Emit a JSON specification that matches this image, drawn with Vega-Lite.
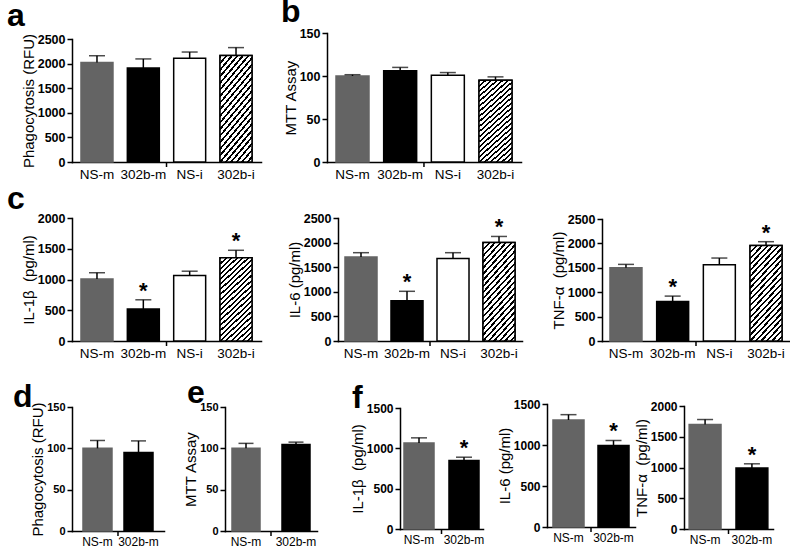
{
"$schema": "https://vega.github.io/schema/vega-lite/v6.json",
"background": "white",
"padding": {"left": 7, "top": -4, "right": 0, "bottom": 0},
"data": {"values": [
{"p":"a","g":"NS-m","v":2020,"hi":2160,"s":0},{"p":"a","g":"302b-m","v":1910,"hi":2095,"s":0},{"p":"a","g":"NS-i","v":2110,"hi":2235,"s":0},{"p":"a","g":"302b-i","v":2165,"hi":2325,"s":0},
{"p":"b","g":"NS-m","v":100,"hi":101.5,"s":0},{"p":"b","g":"302b-m","v":106,"hi":110,"s":0},{"p":"b","g":"NS-i","v":101,"hi":104,"s":0},{"p":"b","g":"302b-i","v":95,"hi":99,"s":0},
{"p":"c1","g":"NS-m","v":1010,"hi":1110,"s":0},{"p":"c1","g":"302b-m","v":520,"hi":670,"s":1},{"p":"c1","g":"NS-i","v":1065,"hi":1135,"s":0},{"p":"c1","g":"302b-i","v":1355,"hi":1475,"s":1},
{"p":"c2","g":"NS-m","v":1705,"hi":1795,"s":0},{"p":"c2","g":"302b-m","v":820,"hi":1010,"s":1},{"p":"c2","g":"NS-i","v":1675,"hi":1795,"s":0},{"p":"c2","g":"302b-i","v":2000,"hi":2125,"s":1},
{"p":"c3","g":"NS-m","v":1500,"hi":1570,"s":0},{"p":"c3","g":"302b-m","v":810,"hi":920,"s":1},{"p":"c3","g":"NS-i","v":1565,"hi":1700,"s":0},{"p":"c3","g":"302b-i","v":1955,"hi":2035,"s":1},
{"p":"d","g":"NS-m","v":100,"hi":109.5,"s":0},{"p":"d","g":"302b-m","v":95,"hi":109,"s":0},
{"p":"e","g":"NS-m","v":100,"hi":106,"s":0},{"p":"e","g":"302b-m","v":104.5,"hi":107.5,"s":0},
{"p":"f1","g":"NS-m","v":1065,"hi":1130,"s":0},{"p":"f1","g":"302b-m","v":850,"hi":890,"s":1},
{"p":"f2","g":"NS-m","v":1305,"hi":1370,"s":0},{"p":"f2","g":"302b-m","v":995,"hi":1055,"s":1},
{"p":"f3","g":"NS-m","v":1700,"hi":1780,"s":0},{"p":"f3","g":"302b-m","v":990,"hi":1060,"s":1}
]},
"columns": 8,
"bounds": "flush",
"align": "each",
"spacing": {"row": 56, "column": 0},
"concat": [
{
 "width": 153, "height": 130,
 "title": {"text": "a", "dx": -65, "offset": -1},
 "transform": [{"filter": "datum.p==='a'"}],
 "encoding": {"x": {"field":"g","type":"nominal","title":null,"axis":{"labelFontSize":13.5,"labelFontWeight":"normal","ticks":false,"tickSize":0,"labelPadding":5,"labelAngle":0},"scale":{"domain":["NS-m","302b-m","NS-i","302b-i"],"range":[0,189],"paddingInner":0.31,"paddingOuter":0.194}}},
 "layer": [
  {"mark":{"type":"bar","strokeWidth":1.5},"encoding":{"y":{"field":"v","type":"quantitative","title":"Phagocytosis (RFU)","scale":{"domain":[0,2500],"range":[130,7],"nice":false},"axis":{"values":[0,500,1000,1500,2000,2500],"format":"d","labelFontSize":12.5,"labelFontWeight":"bold","labelPadding":2,"tickSize":5,"titleFontSize":15,"titleFontWeight":"normal","titlePadding":1}},
    "fill":{"field":"g","type":"nominal","legend":null,"scale":{"domain":["NS-m","302b-m","NS-i","302b-i"],"range":["#646464","#000000","#ffffff","#ffffff"]}},
    "stroke":{"field":"g","type":"nominal","legend":null,"scale":{"domain":["NS-m","302b-m","NS-i","302b-i"],"range":["#646464","#000000","#000000","#000000"]}}}},
  {"transform":[{"filter":"datum.g==='302b-i'"}],"mark":{"type":"bar","stroke":"#000","strokeWidth":1.5},"encoding":{"y":{"field":"v","type":"quantitative","title":"Phagocytosis (RFU)","axis":{"values":[0,500,1000,1500,2000,2500],"format":"d","labelFontSize":12.5,"labelFontWeight":"bold","labelPadding":2,"tickSize":5,"titleFontSize":15,"titleFontWeight":"normal","titlePadding":1}}}},
  {"mark":{"type":"rule","color":"#000","strokeWidth":1.5},"encoding":{"y":{"field":"v","type":"quantitative","title":"Phagocytosis (RFU)","axis":{"values":[0,500,1000,1500,2000,2500],"format":"d","labelFontSize":12.5,"labelFontWeight":"bold","labelPadding":2,"tickSize":5,"titleFontSize":15,"titleFontWeight":"normal","titlePadding":1}},"y2":{"field":"hi"}}},
  {"mark":{"type":"tick","orient":"horizontal","size":16,"thickness":1.5,"color":"#000"},"encoding":{"y":{"field":"hi","type":"quantitative","title":"Phagocytosis (RFU)","axis":{"values":[0,500,1000,1500,2000,2500],"format":"d","labelFontSize":12.5,"labelFontWeight":"bold","labelPadding":2,"tickSize":5,"titleFontSize":15,"titleFontWeight":"normal","titlePadding":1}}}},
  {"transform":[{"filter":"datum.g==='302b-m'"}],"mark":{"type":"rule","color":"#000","strokeWidth":1.5,"xOffset":7.2,"y2Offset":5},"encoding":{
    "x": {"field":"g","type":"nominal","bandPosition":1,"title":null,"axis":{"labelFontSize":13.5,"labelFontWeight":"normal","ticks":false,"tickSize":0,"labelPadding":5,"labelAngle":0},"scale":{"domain":["NS-m","302b-m","NS-i","302b-i"],"range":[0,189],"paddingInner":0.31,"paddingOuter":0.194}},
    "y":{"datum":0,"type":"quantitative","title":"Phagocytosis (RFU)","axis":{"values":[0,500,1000,1500,2000,2500],"format":"d","labelFontSize":12.5,"labelFontWeight":"bold","labelPadding":2,"tickSize":5,"titleFontSize":15,"titleFontWeight":"normal","titlePadding":1}},"y2":{"datum":0}}}
 ]
},
{"width":1,"height":1,"transform":[{"filter":"false"}],"mark":{"type":"point","opacity":0},"encoding":{}},
{
 "width": 11, "height": 130,
 "title": {"text": "b", "dx": -46, "offset": -2},
 "transform": [{"filter": "datum.p==='b'"}],
 "encoding": {"x": {"field":"g","type":"nominal","title":null,"axis":{"labelFontSize":13.5,"labelFontWeight":"normal","ticks":false,"tickSize":0,"labelPadding":5,"labelAngle":0},"scale":{"domain":["NS-m","302b-m","NS-i","302b-i"],"range":[0,194],"paddingInner":0.308,"paddingOuter":0.189}}},
 "layer": [
  {"mark":{"type":"bar","strokeWidth":1.5},"encoding":{"y":{"field":"v","type":"quantitative","title":"MTT Assay","scale":{"domain":[0,150],"range":[130,1],"nice":false},"axis":{"values":[0,50,100,150],"format":"d","labelFontSize":12.5,"labelFontWeight":"bold","labelPadding":2,"tickSize":5,"titleFontSize":15,"titleFontWeight":"normal","titlePadding":1}},
    "fill":{"field":"g","type":"nominal","legend":null,"scale":{"domain":["NS-m","302b-m","NS-i","302b-i"],"range":["#646464","#000000","#ffffff","#ffffff"]}},
    "stroke":{"field":"g","type":"nominal","legend":null,"scale":{"domain":["NS-m","302b-m","NS-i","302b-i"],"range":["#646464","#000000","#000000","#000000"]}}}},
  {"transform":[{"filter":"datum.g==='302b-i'"}],"mark":{"type":"bar","stroke":"#000","strokeWidth":1.5},"encoding":{"y":{"field":"v","type":"quantitative","title":"MTT Assay","axis":{"values":[0,50,100,150],"format":"d","labelFontSize":12.5,"labelFontWeight":"bold","labelPadding":2,"tickSize":5,"titleFontSize":15,"titleFontWeight":"normal","titlePadding":1}}}},
  {"mark":{"type":"rule","color":"#000","strokeWidth":1.5},"encoding":{"y":{"field":"v","type":"quantitative","title":"MTT Assay","axis":{"values":[0,50,100,150],"format":"d","labelFontSize":12.5,"labelFontWeight":"bold","labelPadding":2,"tickSize":5,"titleFontSize":15,"titleFontWeight":"normal","titlePadding":1}},"y2":{"field":"hi"}}},
  {"mark":{"type":"tick","orient":"horizontal","size":16,"thickness":1.5,"color":"#000"},"encoding":{"y":{"field":"hi","type":"quantitative","title":"MTT Assay","axis":{"values":[0,50,100,150],"format":"d","labelFontSize":12.5,"labelFontWeight":"bold","labelPadding":2,"tickSize":5,"titleFontSize":15,"titleFontWeight":"normal","titlePadding":1}}}},
  {"transform":[{"filter":"datum.g==='302b-m'"}],"mark":{"type":"rule","color":"#000","strokeWidth":1.5,"xOffset":7.3,"y2Offset":5},"encoding":{
    "x": {"field":"g","type":"nominal","bandPosition":1,"title":null,"axis":{"labelFontSize":13.5,"labelFontWeight":"normal","ticks":false,"tickSize":0,"labelPadding":5,"labelAngle":0},"scale":{"domain":["NS-m","302b-m","NS-i","302b-i"],"range":[0,194],"paddingInner":0.308,"paddingOuter":0.189}},
    "y":{"datum":0,"type":"quantitative","title":"MTT Assay","axis":{"values":[0,50,100,150],"format":"d","labelFontSize":12.5,"labelFontWeight":"bold","labelPadding":2,"tickSize":5,"titleFontSize":15,"titleFontWeight":"normal","titlePadding":1}},"y2":{"datum":0}}}
 ]
},
{"width":1,"height":1,"transform":[{"filter":"false"}],"mark":{"type":"point","opacity":0},"encoding":{}},
{"width":1,"height":1,"transform":[{"filter":"false"}],"mark":{"type":"point","opacity":0},"encoding":{}},
{"width":1,"height":1,"transform":[{"filter":"false"}],"mark":{"type":"point","opacity":0},"encoding":{}},
{"width":1,"height":1,"transform":[{"filter":"false"}],"mark":{"type":"point","opacity":0},"encoding":{}},
{"width":1,"height":1,"transform":[{"filter":"false"}],"mark":{"type":"point","opacity":0},"encoding":{}},
{
 "width": 153, "height": 123,
 "title": {"text": "c", "dx": -65, "offset": -4},
 "transform": [{"filter": "datum.p==='c1'"}],
 "encoding": {"x": {"field":"g","type":"nominal","title":null,"axis":{"labelFontSize":13.5,"labelFontWeight":"normal","ticks":false,"tickSize":0,"labelPadding":5,"labelAngle":0},"scale":{"domain":["NS-m","302b-m","NS-i","302b-i"],"range":[0,189],"paddingInner":0.31,"paddingOuter":0.194}}},
 "layer": [
  {"mark":{"type":"bar","strokeWidth":1.5},"encoding":{"y":{"field":"v","type":"quantitative","title":"IL-1β\u00a0 (pg/ml)","scale":{"domain":[0,2000],"range":[123,0],"nice":false},"axis":{"values":[0,500,1000,1500,2000],"format":"d","labelFontSize":12.5,"labelFontWeight":"bold","labelPadding":2,"tickSize":5,"titleFontSize":15,"titleFontWeight":"normal","titlePadding":1}},
    "fill":{"field":"g","type":"nominal","legend":null,"scale":{"domain":["NS-m","302b-m","NS-i","302b-i"],"range":["#646464","#000000","#ffffff","#ffffff"]}},
    "stroke":{"field":"g","type":"nominal","legend":null,"scale":{"domain":["NS-m","302b-m","NS-i","302b-i"],"range":["#646464","#000000","#000000","#000000"]}}}},
  {"transform":[{"filter":"datum.g==='302b-i'"}],"mark":{"type":"bar","stroke":"#000","strokeWidth":1.5},"encoding":{"y":{"field":"v","type":"quantitative","title":"IL-1β\u00a0 (pg/ml)","axis":{"values":[0,500,1000,1500,2000],"format":"d","labelFontSize":12.5,"labelFontWeight":"bold","labelPadding":2,"tickSize":5,"titleFontSize":15,"titleFontWeight":"normal","titlePadding":1}}}},
  {"mark":{"type":"rule","color":"#000","strokeWidth":1.5},"encoding":{"y":{"field":"v","type":"quantitative","title":"IL-1β\u00a0 (pg/ml)","axis":{"values":[0,500,1000,1500,2000],"format":"d","labelFontSize":12.5,"labelFontWeight":"bold","labelPadding":2,"tickSize":5,"titleFontSize":15,"titleFontWeight":"normal","titlePadding":1}},"y2":{"field":"hi"}}},
  {"mark":{"type":"tick","orient":"horizontal","size":16,"thickness":1.5,"color":"#000"},"encoding":{"y":{"field":"hi","type":"quantitative","title":"IL-1β\u00a0 (pg/ml)","axis":{"values":[0,500,1000,1500,2000],"format":"d","labelFontSize":12.5,"labelFontWeight":"bold","labelPadding":2,"tickSize":5,"titleFontSize":15,"titleFontWeight":"normal","titlePadding":1}}}},
  {"transform":[{"filter":"datum.s===1"}],"mark":{"type":"text","text":"*","fontSize":22,"fontWeight":"bold","baseline":"alphabetic","dy":-2},"encoding":{"y":{"field":"hi","type":"quantitative","title":"IL-1β\u00a0 (pg/ml)","axis":{"values":[0,500,1000,1500,2000],"format":"d","labelFontSize":12.5,"labelFontWeight":"bold","labelPadding":2,"tickSize":5,"titleFontSize":15,"titleFontWeight":"normal","titlePadding":1}}}},
  {"transform":[{"filter":"datum.g==='302b-m'"}],"mark":{"type":"rule","color":"#000","strokeWidth":1.5,"xOffset":7.2,"y2Offset":5},"encoding":{
    "x": {"field":"g","type":"nominal","bandPosition":1,"title":null,"axis":{"labelFontSize":13.5,"labelFontWeight":"normal","ticks":false,"tickSize":0,"labelPadding":5,"labelAngle":0},"scale":{"domain":["NS-m","302b-m","NS-i","302b-i"],"range":[0,189],"paddingInner":0.31,"paddingOuter":0.194}},
    "y":{"datum":0,"type":"quantitative","title":"IL-1β\u00a0 (pg/ml)","axis":{"values":[0,500,1000,1500,2000],"format":"d","labelFontSize":12.5,"labelFontWeight":"bold","labelPadding":2,"tickSize":5,"titleFontSize":15,"titleFontWeight":"normal","titlePadding":1}},"y2":{"datum":0}}}
 ]
},
{"width":1,"height":1,"transform":[{"filter":"false"}],"mark":{"type":"point","opacity":0},"encoding":{}},
{"width":1,"height":1,"transform":[{"filter":"false"}],"mark":{"type":"point","opacity":0},"encoding":{}},
{
 "width": 62, "height": 123,
 "transform": [{"filter": "datum.p==='c2'"}],
 "encoding": {"x": {"field":"g","type":"nominal","title":null,"axis":{"labelFontSize":13.5,"labelFontWeight":"normal","ticks":false,"tickSize":0,"labelPadding":5,"labelAngle":0},"scale":{"domain":["NS-m","302b-m","NS-i","302b-i"],"range":[0,184],"paddingInner":0.304,"paddingOuter":0.152}}},
 "layer": [
  {"mark":{"type":"bar","strokeWidth":1.5},"encoding":{"y":{"field":"v","type":"quantitative","title":"IL-6 (pg/ml)","scale":{"domain":[0,2500],"range":[123,0],"nice":false},"axis":{"values":[0,500,1000,1500,2000,2500],"format":"d","labelFontSize":12.5,"labelFontWeight":"bold","labelPadding":2,"tickSize":5,"titleFontSize":15,"titleFontWeight":"normal","titlePadding":1}},
    "fill":{"field":"g","type":"nominal","legend":null,"scale":{"domain":["NS-m","302b-m","NS-i","302b-i"],"range":["#646464","#000000","#ffffff","#ffffff"]}},
    "stroke":{"field":"g","type":"nominal","legend":null,"scale":{"domain":["NS-m","302b-m","NS-i","302b-i"],"range":["#646464","#000000","#000000","#000000"]}}}},
  {"transform":[{"filter":"datum.g==='302b-i'"}],"mark":{"type":"bar","stroke":"#000","strokeWidth":1.5},"encoding":{"y":{"field":"v","type":"quantitative","title":"IL-6 (pg/ml)","axis":{"values":[0,500,1000,1500,2000,2500],"format":"d","labelFontSize":12.5,"labelFontWeight":"bold","labelPadding":2,"tickSize":5,"titleFontSize":15,"titleFontWeight":"normal","titlePadding":1}}}},
  {"mark":{"type":"rule","color":"#000","strokeWidth":1.5},"encoding":{"y":{"field":"v","type":"quantitative","title":"IL-6 (pg/ml)","axis":{"values":[0,500,1000,1500,2000,2500],"format":"d","labelFontSize":12.5,"labelFontWeight":"bold","labelPadding":2,"tickSize":5,"titleFontSize":15,"titleFontWeight":"normal","titlePadding":1}},"y2":{"field":"hi"}}},
  {"mark":{"type":"tick","orient":"horizontal","size":16,"thickness":1.5,"color":"#000"},"encoding":{"y":{"field":"hi","type":"quantitative","title":"IL-6 (pg/ml)","axis":{"values":[0,500,1000,1500,2000,2500],"format":"d","labelFontSize":12.5,"labelFontWeight":"bold","labelPadding":2,"tickSize":5,"titleFontSize":15,"titleFontWeight":"normal","titlePadding":1}}}},
  {"transform":[{"filter":"datum.s===1"}],"mark":{"type":"text","text":"*","fontSize":22,"fontWeight":"bold","baseline":"alphabetic","dy":-2},"encoding":{"y":{"field":"hi","type":"quantitative","title":"IL-6 (pg/ml)","axis":{"values":[0,500,1000,1500,2000,2500],"format":"d","labelFontSize":12.5,"labelFontWeight":"bold","labelPadding":2,"tickSize":5,"titleFontSize":15,"titleFontWeight":"normal","titlePadding":1}}}},
  {"transform":[{"filter":"datum.g==='302b-m'"}],"mark":{"type":"rule","color":"#000","strokeWidth":1.5,"xOffset":7,"y2Offset":5},"encoding":{
    "x": {"field":"g","type":"nominal","bandPosition":1,"title":null,"axis":{"labelFontSize":13.5,"labelFontWeight":"normal","ticks":false,"tickSize":0,"labelPadding":5,"labelAngle":0},"scale":{"domain":["NS-m","302b-m","NS-i","302b-i"],"range":[0,184],"paddingInner":0.304,"paddingOuter":0.152}},
    "y":{"datum":0,"type":"quantitative","title":"IL-6 (pg/ml)","axis":{"values":[0,500,1000,1500,2000,2500],"format":"d","labelFontSize":12.5,"labelFontWeight":"bold","labelPadding":2,"tickSize":5,"titleFontSize":15,"titleFontWeight":"normal","titlePadding":1}},"y2":{"datum":0}}}
 ]
},
{"width":1,"height":1,"transform":[{"filter":"false"}],"mark":{"type":"point","opacity":0},"encoding":{}},
{"width":1,"height":1,"transform":[{"filter":"false"}],"mark":{"type":"point","opacity":0},"encoding":{}},
{
 "width": 82, "height": 123,
 "transform": [{"filter": "datum.p==='c3'"}],
 "encoding": {"x": {"field":"g","type":"nominal","title":null,"axis":{"labelFontSize":13.5,"labelFontWeight":"normal","ticks":false,"tickSize":0,"labelPadding":5,"labelAngle":0},"scale":{"domain":["NS-m","302b-m","NS-i","302b-i"],"range":[0,188],"paddingInner":0.315,"paddingOuter":0.171}}},
 "layer": [
  {"mark":{"type":"bar","strokeWidth":1.5},"encoding":{"y":{"field":"v","type":"quantitative","title":"TNF-α\u00a0 (pg/ml)","scale":{"domain":[0,2500],"range":[123,1],"nice":false},"axis":{"values":[0,500,1000,1500,2000,2500],"format":"d","labelFontSize":12.5,"labelFontWeight":"bold","labelPadding":2,"tickSize":5,"titleFontSize":15,"titleFontWeight":"normal","titlePadding":1}},
    "fill":{"field":"g","type":"nominal","legend":null,"scale":{"domain":["NS-m","302b-m","NS-i","302b-i"],"range":["#646464","#000000","#ffffff","#ffffff"]}},
    "stroke":{"field":"g","type":"nominal","legend":null,"scale":{"domain":["NS-m","302b-m","NS-i","302b-i"],"range":["#646464","#000000","#000000","#000000"]}}}},
  {"transform":[{"filter":"datum.g==='302b-i'"}],"mark":{"type":"bar","stroke":"#000","strokeWidth":1.5},"encoding":{"y":{"field":"v","type":"quantitative","title":"TNF-α\u00a0 (pg/ml)","axis":{"values":[0,500,1000,1500,2000,2500],"format":"d","labelFontSize":12.5,"labelFontWeight":"bold","labelPadding":2,"tickSize":5,"titleFontSize":15,"titleFontWeight":"normal","titlePadding":1}}}},
  {"mark":{"type":"rule","color":"#000","strokeWidth":1.5},"encoding":{"y":{"field":"v","type":"quantitative","title":"TNF-α\u00a0 (pg/ml)","axis":{"values":[0,500,1000,1500,2000,2500],"format":"d","labelFontSize":12.5,"labelFontWeight":"bold","labelPadding":2,"tickSize":5,"titleFontSize":15,"titleFontWeight":"normal","titlePadding":1}},"y2":{"field":"hi"}}},
  {"mark":{"type":"tick","orient":"horizontal","size":16,"thickness":1.5,"color":"#000"},"encoding":{"y":{"field":"hi","type":"quantitative","title":"TNF-α\u00a0 (pg/ml)","axis":{"values":[0,500,1000,1500,2000,2500],"format":"d","labelFontSize":12.5,"labelFontWeight":"bold","labelPadding":2,"tickSize":5,"titleFontSize":15,"titleFontWeight":"normal","titlePadding":1}}}},
  {"transform":[{"filter":"datum.s===1"}],"mark":{"type":"text","text":"*","fontSize":22,"fontWeight":"bold","baseline":"alphabetic","dy":-2},"encoding":{"y":{"field":"hi","type":"quantitative","title":"TNF-α\u00a0 (pg/ml)","axis":{"values":[0,500,1000,1500,2000,2500],"format":"d","labelFontSize":12.5,"labelFontWeight":"bold","labelPadding":2,"tickSize":5,"titleFontSize":15,"titleFontWeight":"normal","titlePadding":1}}}},
  {"transform":[{"filter":"datum.g==='302b-m'"}],"mark":{"type":"rule","color":"#000","strokeWidth":1.5,"xOffset":7.35,"y2Offset":5},"encoding":{
    "x": {"field":"g","type":"nominal","bandPosition":1,"title":null,"axis":{"labelFontSize":13.5,"labelFontWeight":"normal","ticks":false,"tickSize":0,"labelPadding":5,"labelAngle":0},"scale":{"domain":["NS-m","302b-m","NS-i","302b-i"],"range":[0,188],"paddingInner":0.315,"paddingOuter":0.171}},
    "y":{"datum":0,"type":"quantitative","title":"TNF-α\u00a0 (pg/ml)","axis":{"values":[0,500,1000,1500,2000,2500],"format":"d","labelFontSize":12.5,"labelFontWeight":"bold","labelPadding":2,"tickSize":5,"titleFontSize":15,"titleFontWeight":"normal","titlePadding":1}},"y2":{"datum":0}}}
 ]
},
{"width":1,"height":1,"transform":[{"filter":"false"}],"mark":{"type":"point","opacity":0},"encoding":{}},
{
 "width": 153, "height": 134,
 "title": {"text": "d", "dx": -59, "offset": -17},
 "transform": [{"filter": "datum.p==='d'"}],
 "encoding": {"x": {"field":"g","type":"nominal","title":null,"axis":{"labelFontSize":12,"labelFontWeight":"normal","ticks":false,"tickSize":0,"labelPadding":5,"labelAngle":0},"scale":{"domain":["NS-m","302b-m"],"range":[0,92],"paddingInner":0.293,"paddingOuter":0.268}}},
 "layer": [
  {"mark":{"type":"bar","strokeWidth":1.5},"encoding":{"y":{"field":"v","type":"quantitative","title":"Phagocytosis (RFU)","scale":{"domain":[0,150],"range":[134,10],"nice":false},"axis":{"values":[0,50,100,150],"format":"d","labelFontSize":11,"labelFontWeight":"bold","labelPadding":2,"tickSize":5,"titleFontSize":15,"titleFontWeight":"normal","titlePadding":1}},
    "fill":{"field":"g","type":"nominal","legend":null,"scale":{"domain":["NS-m","302b-m"],"range":["#646464","#000000"]}},
    "stroke":{"field":"g","type":"nominal","legend":null,"scale":{"domain":["NS-m","302b-m"],"range":["#646464","#000000"]}}}},
  {"mark":{"type":"rule","color":"#000","strokeWidth":1.5},"encoding":{"y":{"field":"v","type":"quantitative","title":"Phagocytosis (RFU)","axis":{"values":[0,50,100,150],"format":"d","labelFontSize":11,"labelFontWeight":"bold","labelPadding":2,"tickSize":5,"titleFontSize":15,"titleFontWeight":"normal","titlePadding":1}},"y2":{"field":"hi"}}},
  {"mark":{"type":"tick","orient":"horizontal","size":15,"thickness":1.5,"color":"#000"},"encoding":{"y":{"field":"hi","type":"quantitative","title":"Phagocytosis (RFU)","axis":{"values":[0,50,100,150],"format":"d","labelFontSize":11,"labelFontWeight":"bold","labelPadding":2,"tickSize":5,"titleFontSize":15,"titleFontWeight":"normal","titlePadding":1}}}},
  {"transform":[{"filter":"datum.g==='NS-m'"}],"mark":{"type":"rule","color":"#000","strokeWidth":1.5,"xOffset":6,"y2Offset":5},"encoding":{
    "x": {"field":"g","type":"nominal","bandPosition":1,"title":null,"axis":{"labelFontSize":12,"labelFontWeight":"normal","ticks":false,"tickSize":0,"labelPadding":5,"labelAngle":0},"scale":{"domain":["NS-m","302b-m"],"range":[0,92],"paddingInner":0.293,"paddingOuter":0.268}},
    "y":{"datum":0,"type":"quantitative","title":"Phagocytosis (RFU)","axis":{"values":[0,50,100,150],"format":"d","labelFontSize":11,"labelFontWeight":"bold","labelPadding":2,"tickSize":5,"titleFontSize":15,"titleFontWeight":"normal","titlePadding":1}},"y2":{"datum":0}}}
 ]
},
{
 "width": 102, "height": 134,
 "title": {"text": "e", "dx": -38, "offset": -13},
 "transform": [{"filter": "datum.p==='e'"}],
 "encoding": {"x": {"field":"g","type":"nominal","title":null,"axis":{"labelFontSize":12,"labelFontWeight":"normal","ticks":false,"tickSize":0,"labelPadding":5,"labelAngle":0},"scale":{"domain":["NS-m","302b-m"],"range":[0,92],"paddingInner":0.44,"paddingOuter":0.14}}},
 "layer": [
  {"mark":{"type":"bar","strokeWidth":1.5},"encoding":{"y":{"field":"v","type":"quantitative","title":"MTT Assay","scale":{"domain":[0,150],"range":[134,10],"nice":false},"axis":{"values":[0,50,100,150],"format":"d","labelFontSize":11,"labelFontWeight":"bold","labelPadding":2,"tickSize":5,"titleFontSize":15,"titleFontWeight":"normal","titlePadding":1}},
    "fill":{"field":"g","type":"nominal","legend":null,"scale":{"domain":["NS-m","302b-m"],"range":["#646464","#000000"]}},
    "stroke":{"field":"g","type":"nominal","legend":null,"scale":{"domain":["NS-m","302b-m"],"range":["#646464","#000000"]}}}},
  {"mark":{"type":"rule","color":"#000","strokeWidth":1.5},"encoding":{"y":{"field":"v","type":"quantitative","title":"MTT Assay","axis":{"values":[0,50,100,150],"format":"d","labelFontSize":11,"labelFontWeight":"bold","labelPadding":2,"tickSize":5,"titleFontSize":15,"titleFontWeight":"normal","titlePadding":1}},"y2":{"field":"hi"}}},
  {"mark":{"type":"tick","orient":"horizontal","size":15,"thickness":1.5,"color":"#000"},"encoding":{"y":{"field":"hi","type":"quantitative","title":"MTT Assay","axis":{"values":[0,50,100,150],"format":"d","labelFontSize":11,"labelFontWeight":"bold","labelPadding":2,"tickSize":5,"titleFontSize":15,"titleFontWeight":"normal","titlePadding":1}}}},
  {"transform":[{"filter":"datum.g==='NS-m'"}],"mark":{"type":"rule","color":"#000","strokeWidth":1.5,"xOffset":11,"y2Offset":5},"encoding":{
    "x": {"field":"g","type":"nominal","bandPosition":1,"title":null,"axis":{"labelFontSize":12,"labelFontWeight":"normal","ticks":false,"tickSize":0,"labelPadding":5,"labelAngle":0},"scale":{"domain":["NS-m","302b-m"],"range":[0,92],"paddingInner":0.44,"paddingOuter":0.14}},
    "y":{"datum":0,"type":"quantitative","title":"MTT Assay","axis":{"values":[0,50,100,150],"format":"d","labelFontSize":11,"labelFontWeight":"bold","labelPadding":2,"tickSize":5,"titleFontSize":15,"titleFontWeight":"normal","titlePadding":1}},"y2":{"datum":0}}}
 ]
},
{"width":1,"height":1,"transform":[{"filter":"false"}],"mark":{"type":"point","opacity":0},"encoding":{}},
{"width":1,"height":1,"transform":[{"filter":"false"}],"mark":{"type":"point","opacity":0},"encoding":{}},
{
 "width": 147, "height": 134,
 "title": {"text": "f", "dx": -48, "offset": -18},
 "transform": [{"filter": "datum.p==='f1'"}],
 "encoding": {"x": {"field":"g","type":"nominal","title":null,"axis":{"offset":-2,"labelFontSize":12,"labelFontWeight":"normal","ticks":false,"tickSize":0,"labelPadding":5,"labelAngle":0},"scale":{"domain":["NS-m","302b-m"],"range":[0,83],"paddingInner":0.333,"paddingOuter":0.089}}},
 "layer": [
  {"mark":{"type":"bar","strokeWidth":1.5},"encoding":{"y":{"field":"v","type":"quantitative","title":"IL-1β\u00a0 (pg/ml)","scale":{"domain":[0,1500],"range":[132,11],"nice":false},"axis":{"values":[0,500,1000,1500],"format":"d","labelFontSize":12,"labelFontWeight":"bold","labelPadding":2,"tickSize":5,"titleFontSize":15,"titleFontWeight":"normal","titlePadding":1}},
    "fill":{"field":"g","type":"nominal","legend":null,"scale":{"domain":["NS-m","302b-m"],"range":["#646464","#000000"]}},
    "stroke":{"field":"g","type":"nominal","legend":null,"scale":{"domain":["NS-m","302b-m"],"range":["#646464","#000000"]}}}},
  {"mark":{"type":"rule","color":"#000","strokeWidth":1.5},"encoding":{"y":{"field":"v","type":"quantitative","title":"IL-1β\u00a0 (pg/ml)","axis":{"values":[0,500,1000,1500],"format":"d","labelFontSize":12,"labelFontWeight":"bold","labelPadding":2,"tickSize":5,"titleFontSize":15,"titleFontWeight":"normal","titlePadding":1}},"y2":{"field":"hi"}}},
  {"mark":{"type":"tick","orient":"horizontal","size":16,"thickness":1.5,"color":"#000"},"encoding":{"y":{"field":"hi","type":"quantitative","title":"IL-1β\u00a0 (pg/ml)","axis":{"values":[0,500,1000,1500],"format":"d","labelFontSize":12,"labelFontWeight":"bold","labelPadding":2,"tickSize":5,"titleFontSize":15,"titleFontWeight":"normal","titlePadding":1}}}},
  {"transform":[{"filter":"datum.s===1"}],"mark":{"type":"text","text":"*","fontSize":22,"fontWeight":"bold","baseline":"alphabetic","dy":-2},"encoding":{"y":{"field":"hi","type":"quantitative","title":"IL-1β\u00a0 (pg/ml)","axis":{"values":[0,500,1000,1500],"format":"d","labelFontSize":12,"labelFontWeight":"bold","labelPadding":2,"tickSize":5,"titleFontSize":15,"titleFontWeight":"normal","titlePadding":1}}}},
  {"transform":[{"filter":"datum.g==='NS-m'"}],"mark":{"type":"rule","color":"#000","strokeWidth":1.5,"xOffset":7.5,"y2Offset":5},"encoding":{
    "x": {"field":"g","type":"nominal","bandPosition":1,"title":null,"axis":{"offset":-2,"labelFontSize":12,"labelFontWeight":"normal","ticks":false,"tickSize":0,"labelPadding":5,"labelAngle":0},"scale":{"domain":["NS-m","302b-m"],"range":[0,83],"paddingInner":0.333,"paddingOuter":0.089}},
    "y":{"datum":0,"type":"quantitative","title":"IL-1β\u00a0 (pg/ml)","axis":{"values":[0,500,1000,1500],"format":"d","labelFontSize":12,"labelFontWeight":"bold","labelPadding":2,"tickSize":5,"titleFontSize":15,"titleFontWeight":"normal","titlePadding":1}},"y2":{"datum":0}}}
 ]
},
{
 "width": 55, "height": 134,
 "transform": [{"filter": "datum.p==='f2'"}],
 "encoding": {"x": {"field":"g","type":"nominal","title":null,"axis":{"offset":-4,"labelFontSize":12,"labelFontWeight":"normal","ticks":false,"tickSize":0,"labelPadding":5,"labelAngle":0},"scale":{"domain":["NS-m","302b-m"],"range":[0,88],"paddingInner":0.311,"paddingOuter":0.133}}},
 "layer": [
  {"mark":{"type":"bar","strokeWidth":1.5},"encoding":{"y":{"field":"v","type":"quantitative","title":"IL-6 (pg/ml)","scale":{"domain":[0,1500],"range":[130,7],"nice":false},"axis":{"values":[0,500,1000,1500],"format":"d","labelFontSize":12,"labelFontWeight":"bold","labelPadding":2,"tickSize":5,"titleFontSize":15,"titleFontWeight":"normal","titlePadding":1}},
    "fill":{"field":"g","type":"nominal","legend":null,"scale":{"domain":["NS-m","302b-m"],"range":["#646464","#000000"]}},
    "stroke":{"field":"g","type":"nominal","legend":null,"scale":{"domain":["NS-m","302b-m"],"range":["#646464","#000000"]}}}},
  {"mark":{"type":"rule","color":"#000","strokeWidth":1.5},"encoding":{"y":{"field":"v","type":"quantitative","title":"IL-6 (pg/ml)","axis":{"values":[0,500,1000,1500],"format":"d","labelFontSize":12,"labelFontWeight":"bold","labelPadding":2,"tickSize":5,"titleFontSize":15,"titleFontWeight":"normal","titlePadding":1}},"y2":{"field":"hi"}}},
  {"mark":{"type":"tick","orient":"horizontal","size":16,"thickness":1.5,"color":"#000"},"encoding":{"y":{"field":"hi","type":"quantitative","title":"IL-6 (pg/ml)","axis":{"values":[0,500,1000,1500],"format":"d","labelFontSize":12,"labelFontWeight":"bold","labelPadding":2,"tickSize":5,"titleFontSize":15,"titleFontWeight":"normal","titlePadding":1}}}},
  {"transform":[{"filter":"datum.s===1"}],"mark":{"type":"text","text":"*","fontSize":22,"fontWeight":"bold","baseline":"alphabetic","dy":-2},"encoding":{"y":{"field":"hi","type":"quantitative","title":"IL-6 (pg/ml)","axis":{"values":[0,500,1000,1500],"format":"d","labelFontSize":12,"labelFontWeight":"bold","labelPadding":2,"tickSize":5,"titleFontSize":15,"titleFontWeight":"normal","titlePadding":1}}}},
  {"transform":[{"filter":"datum.g==='NS-m'"}],"mark":{"type":"rule","color":"#000","strokeWidth":1.5,"xOffset":7,"y2Offset":5},"encoding":{
    "x": {"field":"g","type":"nominal","bandPosition":1,"title":null,"axis":{"offset":-4,"labelFontSize":12,"labelFontWeight":"normal","ticks":false,"tickSize":0,"labelPadding":5,"labelAngle":0},"scale":{"domain":["NS-m","302b-m"],"range":[0,88],"paddingInner":0.311,"paddingOuter":0.133}},
    "y":{"datum":0,"type":"quantitative","title":"IL-6 (pg/ml)","axis":{"values":[0,500,1000,1500],"format":"d","labelFontSize":12,"labelFontWeight":"bold","labelPadding":2,"tickSize":5,"titleFontSize":15,"titleFontWeight":"normal","titlePadding":1}},"y2":{"datum":0}}}
 ]
},
{"width":1,"height":1,"transform":[{"filter":"false"}],"mark":{"type":"point","opacity":0},"encoding":{}},
{
 "width": 89, "height": 134,
 "transform": [{"filter": "datum.p==='f3'"}],
 "encoding": {"x": {"field":"g","type":"nominal","title":null,"axis":{"offset":-2,"labelFontSize":12,"labelFontWeight":"normal","ticks":false,"tickSize":0,"labelPadding":5,"labelAngle":0},"scale":{"domain":["NS-m","302b-m"],"range":[0,89],"paddingInner":0.32,"paddingOuter":0.11}}},
 "layer": [
  {"mark":{"type":"bar","strokeWidth":1.5},"encoding":{"y":{"field":"v","type":"quantitative","title":"TNF-α\u00a0 (pg/ml)","scale":{"domain":[0,2000],"range":[132,9],"nice":false},"axis":{"values":[0,500,1000,1500,2000],"format":"d","labelFontSize":12,"labelFontWeight":"bold","labelPadding":2,"tickSize":5,"titleFontSize":15,"titleFontWeight":"normal","titlePadding":1}},
    "fill":{"field":"g","type":"nominal","legend":null,"scale":{"domain":["NS-m","302b-m"],"range":["#646464","#000000"]}},
    "stroke":{"field":"g","type":"nominal","legend":null,"scale":{"domain":["NS-m","302b-m"],"range":["#646464","#000000"]}}}},
  {"mark":{"type":"rule","color":"#000","strokeWidth":1.5},"encoding":{"y":{"field":"v","type":"quantitative","title":"TNF-α\u00a0 (pg/ml)","axis":{"values":[0,500,1000,1500,2000],"format":"d","labelFontSize":12,"labelFontWeight":"bold","labelPadding":2,"tickSize":5,"titleFontSize":15,"titleFontWeight":"normal","titlePadding":1}},"y2":{"field":"hi"}}},
  {"mark":{"type":"tick","orient":"horizontal","size":16,"thickness":1.5,"color":"#000"},"encoding":{"y":{"field":"hi","type":"quantitative","title":"TNF-α\u00a0 (pg/ml)","axis":{"values":[0,500,1000,1500,2000],"format":"d","labelFontSize":12,"labelFontWeight":"bold","labelPadding":2,"tickSize":5,"titleFontSize":15,"titleFontWeight":"normal","titlePadding":1}}}},
  {"transform":[{"filter":"datum.s===1"}],"mark":{"type":"text","text":"*","fontSize":22,"fontWeight":"bold","baseline":"alphabetic","dy":-2},"encoding":{"y":{"field":"hi","type":"quantitative","title":"TNF-α\u00a0 (pg/ml)","axis":{"values":[0,500,1000,1500,2000],"format":"d","labelFontSize":12,"labelFontWeight":"bold","labelPadding":2,"tickSize":5,"titleFontSize":15,"titleFontWeight":"normal","titlePadding":1}}}},
  {"transform":[{"filter":"datum.g==='NS-m'"}],"mark":{"type":"rule","color":"#000","strokeWidth":1.5,"xOffset":7.5,"y2Offset":5},"encoding":{
    "x": {"field":"g","type":"nominal","bandPosition":1,"title":null,"axis":{"offset":-2,"labelFontSize":12,"labelFontWeight":"normal","ticks":false,"tickSize":0,"labelPadding":5,"labelAngle":0},"scale":{"domain":["NS-m","302b-m"],"range":[0,89],"paddingInner":0.32,"paddingOuter":0.11}},
    "y":{"datum":0,"type":"quantitative","title":"TNF-α\u00a0 (pg/ml)","axis":{"values":[0,500,1000,1500,2000],"format":"d","labelFontSize":12,"labelFontWeight":"bold","labelPadding":2,"tickSize":5,"titleFontSize":15,"titleFontWeight":"normal","titlePadding":1}},"y2":{"datum":0}}}
 ]
}
],
"config": {
 "view": {"stroke": null},
 "font": "Liberation Sans",
 "axis": {"domainColor":"#000","domainWidth":1.5,"domainCap":"square","tickColor":"#000","tickWidth":1.5,"labelColor":"#000","titleColor":"#000","grid":false,"labelFont":"Liberation Sans","titleFont":"Liberation Sans"},
 "title": {"fontSize":32,"fontWeight":"bold","anchor":"start","frame":"group","baseline":"alphabetic","color":"#000","font":"Liberation Sans"},
 "bar": {"fill": {"gradient":"linear","x1":0,"y1":0,"x2":0.4334,"y2":1.204,"stops":[
{"offset":0,"color":"#000"},{"offset":0.01818,"color":"#000"},{"offset":0.01818,"color":"#fff"},{"offset":0.04545,"color":"#fff"},
{"offset":0.04545,"color":"#000"},{"offset":0.06364,"color":"#000"},{"offset":0.06364,"color":"#fff"},{"offset":0.09091,"color":"#fff"},
{"offset":0.09091,"color":"#000"},{"offset":0.10909,"color":"#000"},{"offset":0.10909,"color":"#fff"},{"offset":0.13636,"color":"#fff"},
{"offset":0.13636,"color":"#000"},{"offset":0.15455,"color":"#000"},{"offset":0.15455,"color":"#fff"},{"offset":0.18182,"color":"#fff"},
{"offset":0.18182,"color":"#000"},{"offset":0.2,"color":"#000"},{"offset":0.2,"color":"#fff"},{"offset":0.22727,"color":"#fff"},
{"offset":0.22727,"color":"#000"},{"offset":0.24545,"color":"#000"},{"offset":0.24545,"color":"#fff"},{"offset":0.27273,"color":"#fff"},
{"offset":0.27273,"color":"#000"},{"offset":0.29091,"color":"#000"},{"offset":0.29091,"color":"#fff"},{"offset":0.31818,"color":"#fff"},
{"offset":0.31818,"color":"#000"},{"offset":0.33636,"color":"#000"},{"offset":0.33636,"color":"#fff"},{"offset":0.36364,"color":"#fff"},
{"offset":0.36364,"color":"#000"},{"offset":0.38182,"color":"#000"},{"offset":0.38182,"color":"#fff"},{"offset":0.40909,"color":"#fff"},
{"offset":0.40909,"color":"#000"},{"offset":0.42727,"color":"#000"},{"offset":0.42727,"color":"#fff"},{"offset":0.45455,"color":"#fff"},
{"offset":0.45455,"color":"#000"},{"offset":0.47273,"color":"#000"},{"offset":0.47273,"color":"#fff"},{"offset":0.5,"color":"#fff"},
{"offset":0.5,"color":"#000"},{"offset":0.51818,"color":"#000"},{"offset":0.51818,"color":"#fff"},{"offset":0.54545,"color":"#fff"},
{"offset":0.54545,"color":"#000"},{"offset":0.56364,"color":"#000"},{"offset":0.56364,"color":"#fff"},{"offset":0.59091,"color":"#fff"},
{"offset":0.59091,"color":"#000"},{"offset":0.60909,"color":"#000"},{"offset":0.60909,"color":"#fff"},{"offset":0.63636,"color":"#fff"},
{"offset":0.63636,"color":"#000"},{"offset":0.65455,"color":"#000"},{"offset":0.65455,"color":"#fff"},{"offset":0.68182,"color":"#fff"},
{"offset":0.68182,"color":"#000"},{"offset":0.7,"color":"#000"},{"offset":0.7,"color":"#fff"},{"offset":0.72727,"color":"#fff"},
{"offset":0.72727,"color":"#000"},{"offset":0.74545,"color":"#000"},{"offset":0.74545,"color":"#fff"},{"offset":0.77273,"color":"#fff"},
{"offset":0.77273,"color":"#000"},{"offset":0.79091,"color":"#000"},{"offset":0.79091,"color":"#fff"},{"offset":0.81818,"color":"#fff"},
{"offset":0.81818,"color":"#000"},{"offset":0.83636,"color":"#000"},{"offset":0.83636,"color":"#fff"},{"offset":0.86364,"color":"#fff"},
{"offset":0.86364,"color":"#000"},{"offset":0.88182,"color":"#000"},{"offset":0.88182,"color":"#fff"},{"offset":0.90909,"color":"#fff"},
{"offset":0.90909,"color":"#000"},{"offset":0.92727,"color":"#000"},{"offset":0.92727,"color":"#fff"},{"offset":0.95455,"color":"#fff"},
{"offset":0.95455,"color":"#000"},{"offset":0.97273,"color":"#000"},{"offset":0.97273,"color":"#fff"},{"offset":1,"color":"#fff"}
 ]}}
}
}
